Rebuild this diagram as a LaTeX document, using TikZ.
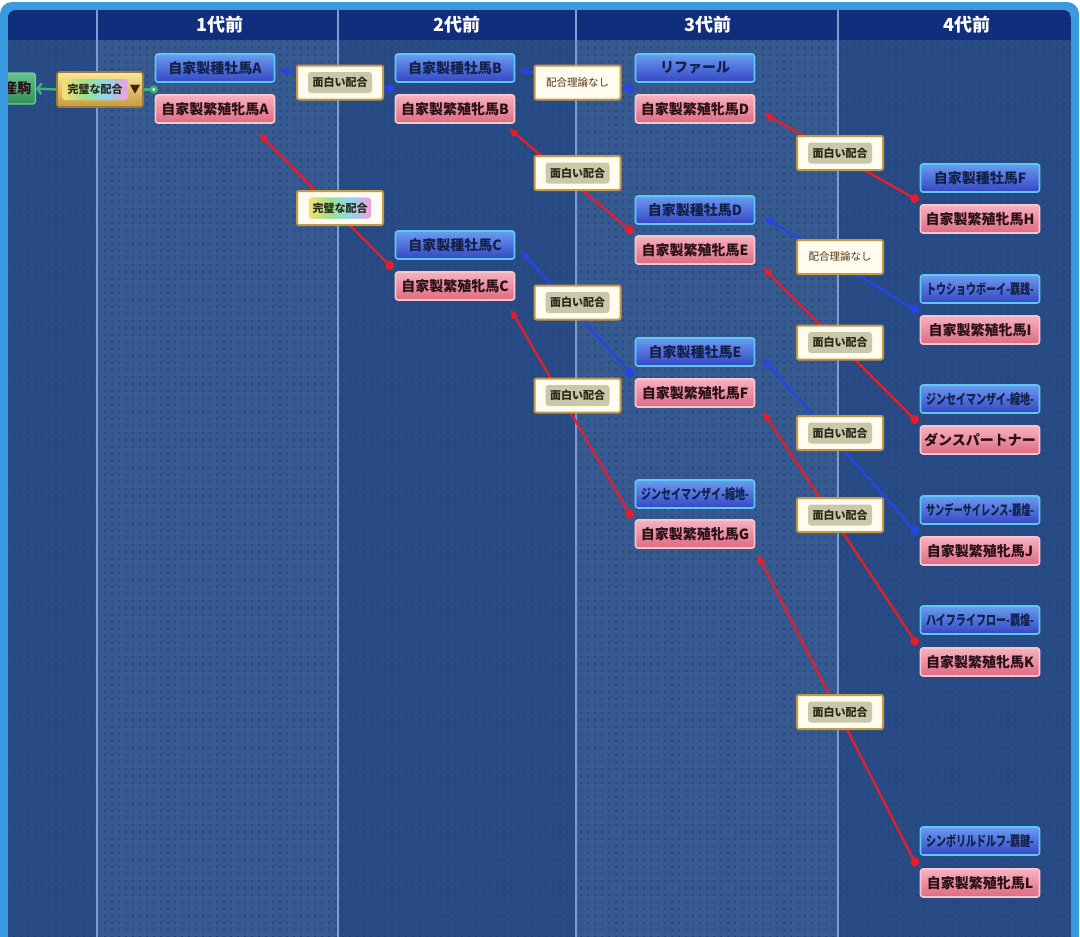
\documentclass[tikz,border=0pt]{standalone}
\usepackage{fontspec}
\setmainfont{Noto Sans CJK JP}
\usetikzlibrary{arrows.meta,calc,patterns.meta}
\pgfdeclarelayer{bg}
\pgfdeclarelayer{edges}
\pgfsetlayers{bg,edges,main}
\definecolor{frameRim}{HTML}{3A9AE0}
\definecolor{headBar}{HTML}{102E7C}
\definecolor{colLight}{HTML}{36598F}
\definecolor{colDark}{HTML}{284A85}
\definecolor{dotCol}{HTML}{20407A}
\definecolor{colSep}{HTML}{7E9CD2}
\definecolor{sireTop}{HTML}{6A9CF0}
\definecolor{sireBot}{HTML}{3446C4}
\definecolor{sireRim}{HTML}{5CC8F4}
\definecolor{sireText}{HTML}{14204A}
\definecolor{damTop}{HTML}{F7B2BE}
\definecolor{damBot}{HTML}{DE6A82}
\definecolor{damRim}{HTML}{F6C6CE}
\definecolor{damText}{HTML}{2A1018}
\definecolor{gold}{HTML}{C49A44}
\definecolor{cream}{HTML}{FFFBEF}
\definecolor{pillGrey}{HTML}{C9C9AA}
\definecolor{pillText}{HTML}{2A2A1A}
\definecolor{brownText}{HTML}{5A3414}
\definecolor{redLine}{HTML}{E41E2A}
\definecolor{blueLine}{HTML}{2446E8}
\definecolor{foalGreen}{HTML}{3DB46E}
\definecolor{rbY}{HTML}{F8E070}
\definecolor{rbG}{HTML}{9CE08C}
\definecolor{rbC}{HTML}{8CD8F0}
\definecolor{rbP}{HTML}{F0A0E0}
\pgfdeclarehorizontalshading{rainbow}{100bp}{color(0bp)=(rbY); color(25bp)=(rbY); color(42bp)=(rbG); color(58bp)=(rbC); color(75bp)=(rbP); color(100bp)=(rbP)}
\newcommand\fitname[1]{\resizebox{108pt}{\height}{#1}}
\tikzset{
  sirebox/.style={rectangle,rounded corners=2.5pt,draw=sireRim,line width=1.6pt,
    top color=sireTop,bottom color=sireBot,minimum width=119pt,minimum height=28pt,
    inner sep=0pt,font=\fontsize{14}{16}\selectfont\bfseries,text=sireText},
  dambox/.style={sirebox,draw=damRim,top color=damTop,bottom color=damBot,text=damText},
  haigo/.style={rectangle,rounded corners=2pt,draw=gold,line width=2pt,fill=cream,
    minimum width=86pt,minimum height=34pt,inner sep=0pt,
    font=\fontsize{10.5}{12}\selectfont,text=brownText},
  pill/.style={rectangle,rounded corners=3pt,fill=pillGrey,minimum width=64pt,
    minimum height=21pt,inner sep=0pt,font=\fontsize{11}{12}\selectfont\bfseries,text=pillText},
  omoshiroi/.style={haigo,label={[pill]center:面白い配合}},
  rbpill/.style={pill,shading=rainbow,minimum width=66pt},
  kanpeki/.style={rectangle,rounded corners=2.5pt,draw=gold!80!black,line width=1.6pt,
    top color=rbY!70!white,bottom color=gold!90!orange,minimum width=86pt,minimum height=35pt},
  foalbox/.style={rectangle,rounded corners=2.5pt,draw=foalGreen!70!white,line width=1.2pt,
    top color=foalGreen!80!white,bottom color=foalGreen!80!black,minimum height=31pt,
    inner xsep=4pt,font=\fontsize{14}{16}\selectfont\bfseries,text=damText},
  greenline/.style={draw=foalGreen,line width=2.4pt},
  redline/.style={draw=redLine,line width=2.3pt,-{Latex[length=10pt,width=9pt]}},
  blueline/.style={redline,draw=blueLine},
  hdr/.style={font=\fontsize{18}{20}\selectfont\bfseries,text=white},
}
\begin{document}
\begin{tikzpicture}[x=1pt,y=-1pt]
  \useasboundingbox (0,0) rectangle (1080,937);
  % Rahmen und Spalten
  \begin{pgfonlayer}{bg}
    \fill[white] (0,0) rectangle (1080,937);
    \fill[frameRim,rounded corners=12pt] (0,2) rectangle (1079,990);
    \begin{scope}
      \clip[rounded corners=8pt] (8,10) rectangle (1071,990);
      \fill[colDark] (8,10) rectangle (97,990);
      \fill[colLight] (97,10) rectangle (338,990);
      \fill[colDark] (338,10) rectangle (576,990);
      \fill[colLight] (576,10) rectangle (838,990);
      \fill[colDark] (838,10) rectangle (1071,990);
      \fill[pattern={Dots[radius=1pt,distance=7pt]},pattern color=dotCol] (8,40) rectangle (1071,990);
      \fill[headBar] (8,10) rectangle (1071,40);
      \foreach \x in {97,338,576,838}
        \draw[colSep,line width=1.5pt] (\x,10) -- (\x,990);
    \end{scope}
  \end{pgfonlayer}
  % Kopfzeile
  \node[hdr] (h1) at (220,25) {1代前};
  \node[hdr] (h2) at (457,25) {2代前};
  \node[hdr] (h3) at (708,25) {3代前};
  \node[hdr] (h4) at (967,25) {4代前};
  %産駒
  \begin{scope}
    \clip (8,0) rectangle (1080,937);
    \node[foalbox,anchor=east] (foal) at (36,88.5) {産駒};
  \end{scope}
  \node[kanpeki,label={[rbpill,xshift=-5pt]center:完璧な配合}] (kp) at (100,89.5) {};
  \node[text=brownText!70!black,font=\fontsize{11}{12}\selectfont,inner sep=0pt] (kpv) at (135,90) {▼};
  \coordinate (kpend) at ($(kp.east)+(14,0)$);
  % 1代前
  \node[sirebox] (sA) at (215,68) {自家製種牡馬A};
  \node[dambox] (mA) at (215,109) {自家製繁殖牝馬A};
  % 2代前
  \node[sirebox] (sB) at (455,68) {自家製種牡馬B};
  \node[dambox] (mB) at (455,109) {自家製繁殖牝馬B};
  \node[sirebox] (sC) at (455,245) {自家製種牡馬C};
  \node[dambox] (mC) at (455,286) {自家製繁殖牝馬C};
  % 3代前
  \node[sirebox] (sLyp) at (695,68) {リファール};
  \node[dambox] (mD) at (695,109) {自家製繁殖牝馬D};
  \node[sirebox] (sD) at (695,210) {自家製種牡馬D};
  \node[dambox] (mE) at (695,250) {自家製繁殖牝馬E};
  \node[sirebox] (sE) at (695,352) {自家製種牡馬E};
  \node[dambox] (mF) at (695,393) {自家製繁殖牝馬F};
  \node[sirebox] (sJin3) at (695,494) {\fitname{ジンセイマンザイ-縮地-}};
  \node[dambox] (mG) at (695,534) {自家製繁殖牝馬G};
  % 4代前
  \node[sirebox] (sF) at (980,178) {自家製種牡馬F};
  \node[dambox] (mH) at (980,219) {自家製繁殖牝馬H};
  \node[sirebox] (sTou) at (980,289) {\fitname{トウショウボーイ-覇践-}};
  \node[dambox] (mI) at (980,330) {自家製繁殖牝馬I};
  \node[sirebox] (sJin4) at (980,399) {\fitname{ジンセイマンザイ-縮地-}};
  \node[dambox] (mDance) at (980,440) {ダンスパートナー};
  \node[sirebox] (sSun) at (980,510) {\fitname{サンデーサイレンス-覇煌-}};
  \node[dambox] (mJ) at (980,551) {自家製繁殖牝馬J};
  \node[sirebox] (sHigh) at (980,620) {\fitname{ハイフライフロー-覇煌-}};
  \node[dambox] (mK) at (980,662) {自家製繁殖牝馬K};
  \node[sirebox] (sSym) at (980,841) {\fitname{シンボリルドルフ-覇鍵-}};
  \node[dambox] (mL) at (980,883) {自家製繁殖牝馬L};
  % Verzweigungspunkte
  \foreach \s/\m/\j in {sB/mB/jB,sC/mC/jC,sLyp/mD/jLyp,sD/mE/jDE,sE/mF/jEF,sJin3/mG/jJin3,
      sF/mH/jFH,sTou/mI/jTou,sJin4/mDance/jJin4,sSun/mJ/jSun,sHigh/mK/jHigh,sSym/mL/jSym}
    \coordinate (\j) at ($(\s.south west)!.5!(\m.north west)+(-5,0)$);
  % 配合
  \node[omoshiroi] (k1) at (340,82.5) {};
  \node[haigo,label={[rbpill,minimum width=62pt]center:完璧な配合}] (k2) at (340,208) {};
  \node[haigo] (k3) at (577.5,82.5) {配合理論なし};
  \node[omoshiroi] (k4) at (577.5,173) {};
  \node[omoshiroi] (k5) at (577.5,302.5) {};
  \node[omoshiroi] (k6) at (577.5,395.5) {};
  \node[omoshiroi] (k7) at (840,153) {};
  \node[haigo] (k8) at (840,257) {配合理論なし};
  \node[omoshiroi] (k9) at (840,342.5) {};
  \node[omoshiroi] (k10) at (840,433) {};
  \node[omoshiroi] (k11) at (840,515) {};
  \node[omoshiroi] (k12) at (840,712) {};
  % Linien
  \begin{pgfonlayer}{edges}
    \draw[greenline,-{Straight Barb[length=4pt,width=11pt]}] (kp.west) -- (foal.east);
    \draw[greenline,-{Circle[open,length=8pt,width=8pt,fill=white]}] (kp.east) -- (kpend);
    \draw[blueline] (jB) -- ([shift={(3,2)}]sA.east);
    \draw[redline] (jC) -- ([shift={(-17,9)}]mA.south east);
    \draw[blueline] (jLyp) -- ([shift={(3,2)}]sB.east);
    \draw[redline] (jDE) -- ([shift={(-7,4)}]mB.south east);
    \draw[blueline] (jEF) -- ([shift={(5,5)}]sC.east);
    \draw[redline] (jJin3) -- ([shift={(-5,8)}]mC.south east);
    \draw[redline] (jFH) -- ([shift={(8,4)}]mD.east);
    \draw[blueline] (jTou) -- ([shift={(8,7)}]sD.east);
    \draw[redline] (jJin4) -- ([shift={(7,2)}]mE.south east);
    \draw[blueline] (jSun) -- ([shift={(7,6)}]sE.east);
    \draw[redline] (jHigh) -- ([shift={(7,3)}]mF.south east);
    \draw[redline] (jSym) -- ([shift={(2,5)}]mG.south east);
  \end{pgfonlayer}
  \foreach \j/\c in {jB/blueLine,jC/redLine,jLyp/blueLine,jDE/redLine,jEF/blueLine,jJin3/redLine,
      jFH/redLine,jTou/blueLine,jJin4/redLine,jSun/blueLine,jHigh/redLine,jSym/redLine}
    \fill[\c] (\j) circle (4.5pt);
\end{tikzpicture}
\end{document}
